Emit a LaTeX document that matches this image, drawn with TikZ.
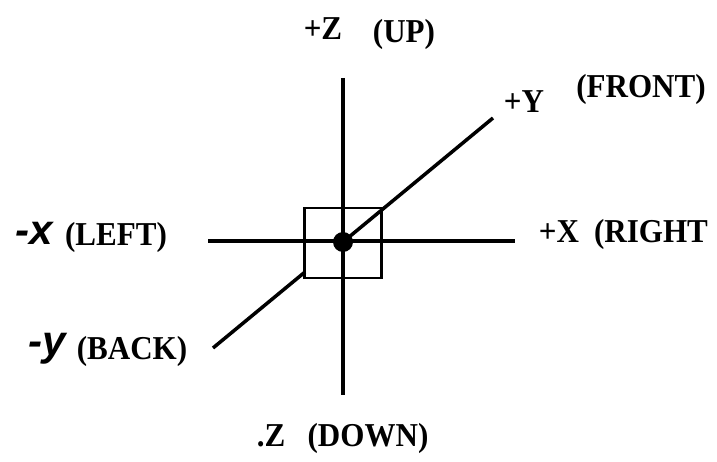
\documentclass[tikz,border=0pt]{standalone}
\usepackage{fontspec}
\setmainfont{Liberation Serif}
\newfontfamily\axisfont{Liberation Sans}
\usetikzlibrary{calc}

\begin{document}
\begin{tikzpicture}[x=0.02cm,y=-0.02cm,
 axis/.style={line width=2.8pt},
 lbl/.style={inner sep=0pt,font=\bfseries\fontsize{19}{20}\selectfont,xscale=0.93},
 neg/.style={inner sep=0pt,font=\axisfont\bfseries\itshape\fontsize{24}{26}\selectfont}]
\useasboundingbox (0,0) rectangle (717,462);
% axis ends
\coordinate (c) at (343,242);
\coordinate (zu) at (343,78); \coordinate (zd) at (343,395);
\coordinate (xl) at (208,241); \coordinate (xr) at (515,241);
\coordinate (yf) at (493,118); \coordinate (yb) at (213,348);
\coordinate (yk) at (305,272);
\draw[axis] (zu) -- (zd);
\draw[axis] (xl) -- (xr);
\draw[line width=2pt] (yb) -- (yk);
\node[draw,line width=1.4pt,minimum width=77*0.02cm,minimum height=70*0.02cm,inner sep=0pt] (box) at (343,243) {};
\draw[line width=2pt] (c) -- (yf);
\fill (c) circle[radius=10*0.02cm];
% labels
\node[lbl] (pz) at (323,29) {+Z};
\node[lbl] (up) at (404,34) {(UP)};
\node[lbl] (py) at (524,102) {+Y};
\node[lbl] (front) at (641,89) {(FRONT)};
\node[neg] (nx) at (34,233) {-x};
\node[lbl] (left) at (116,237) {(LEFT)};
\node[lbl] (px) at (559,232) {+X};
\node[lbl] (right) at (651,234) {(RIGHT};
\node[neg] (ny) at (47,349) {-y};
\node[lbl] (back) at (132,351) {(BACK)};
\node[lbl] (nz) at (271,436) {.Z};
\node[lbl] (down) at (368,438) {(DOWN)};
\end{tikzpicture}
\end{document}
